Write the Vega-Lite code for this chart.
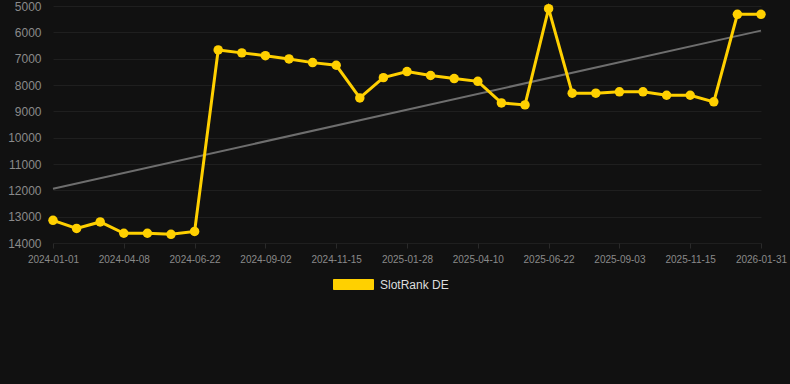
{
  "$schema": "https://vega.github.io/schema/vega-lite/v6.json",
  "autosize": "none",
  "width": 746,
  "height": 237,
  "padding": {"left": 44, "top": 6, "right": 0, "bottom": 141},
  "background": "#111111",
  "config": {
    "view": {"stroke": null},
    "font": "Liberation Sans",
    "axis": {"gridColor": "#1f1f1f", "domain": false, "labelFont": "Liberation Sans"}
  },
  "datasets": {
    "rank": [
      {"date": "2024-01-01", "rank": 13140},
      {"date": "2024-02-03", "rank": 13445},
      {"date": "2024-03-07", "rank": 13200},
      {"date": "2024-04-08", "rank": 13630},
      {"date": "2024-05-03", "rank": 13630},
      {"date": "2024-05-28", "rank": 13670},
      {"date": "2024-06-22", "rank": 13560},
      {"date": "2024-07-16", "rank": 6670},
      {"date": "2024-08-09", "rank": 6780},
      {"date": "2024-09-02", "rank": 6885},
      {"date": "2024-09-26", "rank": 7010},
      {"date": "2024-10-21", "rank": 7150},
      {"date": "2024-11-15", "rank": 7250},
      {"date": "2024-12-09", "rank": 8490},
      {"date": "2025-01-03", "rank": 7720},
      {"date": "2025-01-28", "rank": 7490},
      {"date": "2025-02-21", "rank": 7640},
      {"date": "2025-03-17", "rank": 7755},
      {"date": "2025-04-10", "rank": 7860},
      {"date": "2025-05-04", "rank": 8680},
      {"date": "2025-05-28", "rank": 8755},
      {"date": "2025-06-22", "rank": 5100},
      {"date": "2025-07-16", "rank": 8310},
      {"date": "2025-08-09", "rank": 8310},
      {"date": "2025-09-03", "rank": 8260},
      {"date": "2025-09-27", "rank": 8260},
      {"date": "2025-10-21", "rank": 8390},
      {"date": "2025-11-15", "rank": 8390},
      {"date": "2025-12-11", "rank": 8640},
      {"date": "2026-01-05", "rank": 5315},
      {"date": "2026-01-31", "rank": 5315}
    ],
    "trend": [
      {"date": "2024-01-01", "rank": 11940},
      {"date": "2026-01-31", "rank": 5935}
    ]
  },
  "encoding": {
    "x": {
      "field": "date",
      "type": "ordinal",
      "scale": {"type": "point", "range": [9, 717], "padding": 0},
      "axis": {
        "title": null,
        "labelAngle": 0,
        "labelFontSize": 10,
        "labelColor": "#8a8a8a",
        "tickColor": "#2a2a2a",
        "tickSize": 5,
        "labelPadding": 6,
        "values": ["2024-01-01", "2024-04-08", "2024-06-22", "2024-09-02", "2024-11-15", "2025-01-28", "2025-04-10", "2025-06-22", "2025-09-03", "2025-11-15", "2026-01-31"]
      }
    },
    "y": {
      "field": "rank",
      "type": "quantitative",
      "scale": {"domain": [5000, 14000], "reverse": true, "nice": false, "zero": false},
      "axis": {
        "title": null,
        "values": [5000, 6000, 7000, 8000, 9000, 10000, 11000, 12000, 13000, 14000],
        "tickCount": 10,
        "format": "d",
        "ticks": false,
        "labelPadding": 3,
        "labelFontSize": 12,
        "labelColor": "#8a8a8a",
        "labelOverlap": false
      }
    }
  },
  "layer": [
    {
      "data": {"name": "trend"},
      "mark": {"type": "line", "color": "#6e6e6e", "strokeWidth": 2}
    },
    {
      "data": {"name": "rank"},
      "mark": {"type": "line", "strokeWidth": 3},
      "encoding": {
        "color": {
          "datum": "SlotRank DE",
          "type": "nominal",
          "scale": {"range": ["#FFD000"]},
          "legend": {
            "title": null,
            "orient": "none",
            "legendX": 289,
            "legendY": 258,
            "symbolType": "M-1,-0.25L1,-0.25L1,0.25L-1,0.25Z",
            "symbolSize": 1600,
            "symbolStrokeWidth": 1,
            "symbolFillColor": "#FFD000",
            "symbolStrokeColor": "#c9a600",
            "labelFontSize": 12,
            "labelColor": "#dddddd",
            "labelFont": "Liberation Sans",
            "labelOffset": 6
          }
        }
      }
    },
    {
      "data": {"name": "rank"},
      "mark": {"type": "point", "filled": true, "opacity": 1, "size": 90, "color": "#FFD000"}
    }
  ]
}
